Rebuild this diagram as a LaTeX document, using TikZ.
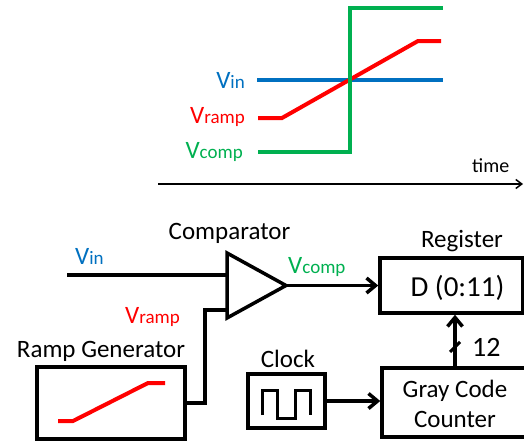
\documentclass[tikz,border=0pt]{standalone}
\usepackage{fontspec}
\setmainfont{Carlito}
\usetikzlibrary{arrows.meta,calc}

\definecolor{sigblue}{HTML}{0070C0}
\definecolor{sigred}{HTML}{FF0000}
\definecolor{siggreen}{HTML}{00B050}

% V with a smaller trailing name on the same baseline
\newcommand{\sigV}[1]{{\fontsize{25}{25}\selectfont V}{\fontsize{19}{19}\selectfont #1}}

\tikzset{
  wire/.style={line width=3.5pt, line join=miter},
  trace/.style={line width=4pt},
  blk/.style={draw, line width=3.5pt, inner sep=0pt},
  lbl/.style={font=\fontsize{25}{25}\selectfont, inner sep=0pt},
  tip/.style={-{Straight Barb[length=9pt,width=15pt]}},
}

\begin{document}
\begin{tikzpicture}[x=1pt,y=-1pt]
\useasboundingbox (0,0) rectangle (524,442);
\clip (0,0) rectangle (524,442);

% ---------- timing waveforms ----------
\coordinate (t0) at (158,184);
\coordinate (t1) at (523,184);
\draw[line width=1.5pt, -{Straight Barb[length=6pt,width=9pt]}] (t0) -- (t1);
\node[anchor=base west, inner sep=0pt, font=\fontsize{20}{20}\selectfont] (tlab) at (472,172) {time};

\draw[trace, sigblue] (257,80) -- (443,80);
\draw[trace, sigred] (258,118) -- (282,118) -- (418,41) -- (441,41);
\draw[trace, siggreen, line join=miter] (258,152) -- (350,152) -- (350,8) -- (443,8);

\node[anchor=base east, inner sep=0pt, sigblue] (wvin) at (245,88) {\sigV{in}};
\node[anchor=base east, inner sep=0pt, sigred] (wvramp) at (245,123) {\sigV{ramp}};
\node[anchor=base east, inner sep=0pt, siggreen] (wvcomp) at (243,158) {\sigV{comp}};

% ---------- block diagram ----------
% comparator
\coordinate (cmpA) at (227,253);
\coordinate (cmpB) at (227,318);
\coordinate (cmpOut) at (286,285.5);
\coordinate (cmpIn1) at (227,275);
\coordinate (cmpIn2) at (227,310);
\draw[wire] (cmpA) -- (cmpOut) -- (cmpB) -- cycle;
\node[lbl, anchor=base] (cmplab) at (229.5,239) {Comparator};

% register
\node[blk, minimum width=143pt, minimum height=55pt] (reg) at (451.5,285.5) {};
\node[anchor=base, inner sep=0pt, font=\fontsize{29}{29}\selectfont] (regtxt) at (457.5,296) {D (0:11)};
\node[lbl, anchor=base] (reglab) at (462,247) {Register};

% gray code counter
\node[blk, minimum width=146pt, minimum height=69pt] (cnt) at (455,402.5) {};
\node[lbl, anchor=base, align=center] (cnttxt1) at (455,397) {Gray Code};
\node[lbl, anchor=base] (cnttxt2) at (455,427) {Counter};

% ramp generator
\node[blk, minimum width=148pt, minimum height=72pt] (ramp) at (111,403) {};
\node[lbl, anchor=base] (ramplab) at (101,357) {Ramp Generator};
\draw[trace, sigred] (58,421) -- (73,421) -- (148,383) -- (165,383);

% clock
\node[blk, minimum width=77pt, minimum height=54pt] (clk) at (286.5,401) {};
\node[lbl, anchor=base] (clklab) at (288,367) {Clock};
\draw[wire, line width=3pt] (262,415) -- (262,390) -- (277,390) -- (277,418)
  -- (295,418) -- (295,390) -- (310,390) -- (310,415);

% inputs to the comparator
\coordinate (vinsrc) at (67,275);
\draw[wire] (vinsrc) -- (cmpIn1);
\node[anchor=base west, inner sep=0pt, sigblue] (vinlab) at (75,264) {\sigV{in}};

\coordinate (rampbend) at (205,310);
\draw[wire] (ramp.east) -- (ramp.east -| rampbend) -- (rampbend) -- (cmpIn2);
\node[anchor=base west, inner sep=0pt, sigred] (vramplab) at (125,323) {\sigV{ramp}};

% comparator output to register
\draw[wire, tip] (cmpOut) -- (cmpOut -| reg.west);
\node[anchor=base west, inner sep=0pt, siggreen] (vcomplab) at (288,273) {\sigV{comp}};

% clock to counter
\draw[wire, tip] (clk.east) -- (clk.east -| cnt.west);

% 12-bit bus from counter to register
\draw[wire, tip] (cnt.north) -- (cnt.north |- reg.south);
\coordinate (busmid) at (455,347);
\draw[line width=3pt] ($(busmid)+(-5,5)$) -- ($(busmid)+(5,-5)$);
\node[anchor=base west, inner sep=0pt, font=\fontsize{28}{28}\selectfont] (buslab) at (472,356) {12};
\end{tikzpicture}
\end{document}
